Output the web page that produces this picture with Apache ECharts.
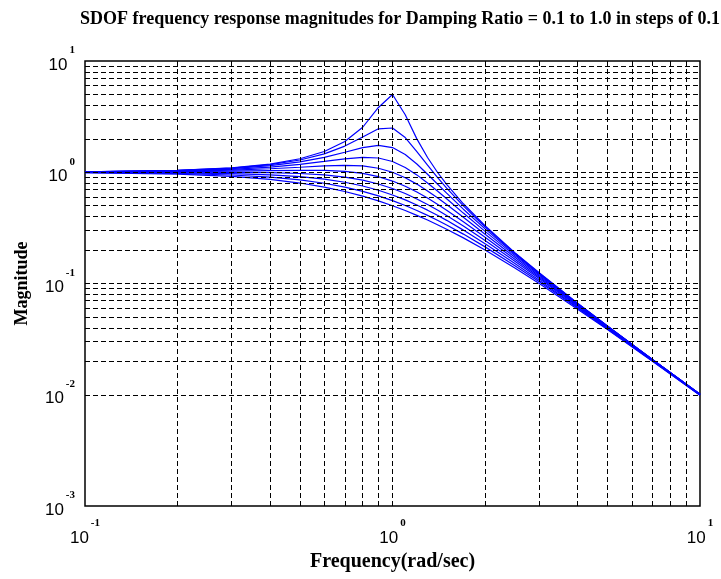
<!DOCTYPE html>
<html>
<head>
<meta charset="utf-8">
<script src="https://cdn.jsdelivr.net/npm/echarts@6/dist/echarts.min.js"></script>
<style>
html,body{margin:0;padding:0;background:#fff;}
#chart{width:721px;height:579px;}
</style>
</head>
<body>
<div id="chart"></div>
<script>
// Frequency ratio samples (rad/sec)
const freq = [0.1,0.2,0.3,0.4,0.5,0.6,0.7,0.8,0.9,1.0,1.1,1.2,1.3,1.4,1.5,1.7,2.0,2.5,3,4,5,7,10];
// Damping ratios
const damping = ['0.1','0.2','0.3','0.4','0.5','0.6','0.7','0.8','0.9','1.0'];
// Magnitudes, one array per damping ratio
const mag01 = [1.010,1.041,1.097,1.185,1.322,1.536,1.891,2.538,3.821,5.000,3.288,1.995,1.356,1.000,0.7779,0.5207,0.3304,0.1896,0.1247,0.0666,0.0416,0.0208,0.0101];
const mag02 = [1.009,1.038,1.090,1.169,1.288,1.463,1.719,2.076,2.457,2.500,2.051,1.536,1.157,0.8998,0.7212,0.4979,0.3221,0.1871,0.1236,0.0663,0.0415,0.0208,0.0101];
const mag03 = [1.008,1.034,1.078,1.145,1.238,1.362,1.514,1.667,1.747,1.667,1.444,1.185,0.9603,0.7839,0.6492,0.4656,0.3095,0.1832,0.1220,0.0658,0.0413,0.0208,0.0101];
const mag04 = [1.007,1.028,1.063,1.113,1.177,1.250,1.320,1.362,1.343,1.250,1.105,0.9469,0.8012,0.6779,0.5771,0.4295,0.2941,0.1780,0.1197,0.0652,0.0411,0.0207,0.0101];
const mag05 = [1.005,1.020,1.044,1.075,1.109,1.140,1.155,1.140,1.087,1.000,0.8930,0.7824,0.6795,0.5891,0.5121,0.3934,0.2774,0.1720,0.1170,0.0644,0.0408,0.0206,0.0101];
const mag06 = [1.003,1.011,1.022,1.034,1.041,1.038,1.018,0.9753,0.9119,0.8333,0.7482,0.6641,0.5862,0.5168,0.4563,0.3596,0.2603,0.1654,0.1140,0.0635,0.0404,0.0205,0.0100];
const mag07 = [1.000,1.000,0.9978,0.9905,0.9747,0.9469,0.9052,0.8500,0.7848,0.7143,0.6434,0.5758,0.5138,0.4582,0.4092,0.3290,0.2437,0.1585,0.1107,0.0625,0.0400,0.0204,0.0100];
const mag08 = [0.9972,0.9882,0.9720,0.9469,0.9119,0.8667,0.8126,0.7521,0.6885,0.6250,0.5642,0.5077,0.4563,0.4103,0.3695,0.3019,0.2280,0.1515,0.1072,0.0613,0.0395,0.0203,0.0100];
const mag09 = [0.9938,0.9753,0.9450,0.9039,0.8536,0.7966,0.7357,0.6737,0.6131,0.5556,0.5022,0.4536,0.4099,0.3708,0.3361,0.2780,0.2134,0.1446,0.1036,0.0601,0.0390,0.0202,0.0099];
const mag10 = [0.9901,0.9615,0.9174,0.8621,0.8000,0.7353,0.6711,0.6098,0.5525,0.5000,0.4525,0.4098,0.3717,0.3378,0.3077,0.2571,0.2000,0.1379,0.1000,0.0588,0.0385,0.0200,0.0099];
const magnitudes = [mag01,mag02,mag03,mag04,mag05,mag06,mag07,mag08,mag09,mag10];
// Grid-line tick values
const xGridTicks = [0.2,0.3,0.4,0.5,0.6,0.7,0.8,0.9,1,2,3,4,5,6,7,8,9];
const yGridTicks = [0.002,0.003,0.004,0.005,0.006,0.007,0.008,0.009,0.01,0.02,0.03,0.04,0.05,0.06,0.07,0.08,0.09,0.1,0.2,0.3,0.4,0.5,0.6,0.7,0.8,0.9,1,2,3,4,5,6,7,8,9];

const chart = echarts.init(document.getElementById('chart'), null, {renderer:'canvas'});
const serif = "'Liberation Serif','Times New Roman',serif";
const tickFont = "'Liberation Sans Narrow','Liberation Sans',Arial,sans-serif";
const expFmt = v => '{b|10}{s|' + Math.round(Math.log10(v)) + '}';
const richLbl = {
  b:{fontSize:17, fontFamily:tickFont, color:'#000', lineHeight:40},
  s:{fontSize:11, fontFamily:serif, fontWeight:'bold', color:'#000', lineHeight:12, verticalAlign:'top', padding:[0,0,0,2]}
};

const lineSeries = damping.map((z, k) => ({
  name: 'zeta=' + z,
  type: 'line',
  data: freq.map((f, i) => [f, magnitudes[k][i]]),
  showSymbol: false,
  symbol: 'none',
  lineStyle: {color:'#0000ff', width:1.2},
  itemStyle: {color:'#0000ff'},
  z: 3,
  animation: false
}));

const gridSeries = {
  type: 'line',
  data: [],
  z: 2,
  silent: true,
  animation: false,
  markLine: {
    silent: true,
    symbol: ['none','none'],
    label: {show:false},
    animation: false,
    lineStyle: {color:'#000', type:[5,3], width:1},
    data: xGridTicks.map(v => ({xAxis: v})).concat(yGridTicks.map(v => ({yAxis: v})))
  }
};

chart.setOption({
  backgroundColor: '#fff',
  animation: false,
  title: {
    text: 'SDOF frequency response magnitudes for Damping Ratio = 0.1 to 1.0 in steps of 0.1',
    left: 75, top: 5,
    textStyle: {fontFamily: serif, fontWeight:'bold', fontSize:18, color:'#000'}
  },
  grid: {left:85, right:21, top:61, bottom:73, show:true, borderColor:'#000', borderWidth:1.5, backgroundColor:'#fff'},
  xAxis: {
    type:'log', logBase:10, min:0.1, max:10, splitNumber:2,
    name:'Frequency(rad/sec)', nameLocation:'middle', nameGap:40,
    nameTextStyle:{fontFamily:serif, fontWeight:'bold', fontSize:20, color:'#000'},
    axisLine:{show:false}, axisTick:{show:false}, splitLine:{show:false},
    axisLabel:{formatter: expFmt, rich: richLbl, margin:12, hideOverlap:false}
  },
  yAxis: {
    type:'log', logBase:10, min:0.001, max:10, splitNumber:4,
    name:'Magnitude', nameLocation:'middle', nameGap:54, nameRotate:90,
    nameTextStyle:{fontFamily:serif, fontWeight:'bold', fontSize:18, color:'#000'},
    axisLine:{show:false}, axisTick:{show:false}, splitLine:{show:false},
    axisLabel:{formatter: expFmt, rich: richLbl, margin:10, padding:[8,0,0,0], hideOverlap:false}
  },
  series: [gridSeries].concat(lineSeries)
});
</script>
</body>
</html>
